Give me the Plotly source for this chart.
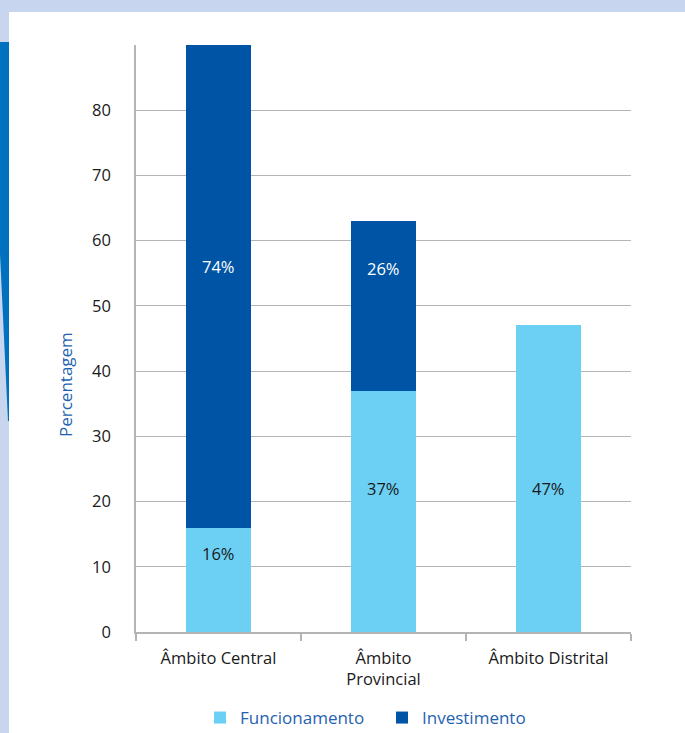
import plotly.graph_objects as go

# Budget share by level of government (%)
categories = ["Âmbito Central", "Âmbito<br>Provincial", "Âmbito Distrital"]
funcionamento = [16, 37, 47]
investimento = [74, 26, 0]
series_names = ["Funcionamento", "Investimento"]
y_ticks = [0, 10, 20, 30, 40, 50, 60, 70, 80]

LIGHT = "#6cd0f5"
DARK = "#0054a6"
GRID = "#b4b4b4"
BLUE_TEXT = "#1f62b0"
FONT = "Open Sans, Noto Sans, sans-serif"

W, H = 685, 733
L, R, T, B = 136, 54, 45, 101
pw, ph = W - L - R, H - T - B


def px(x):
    return (x - L) / pw


def py(y):
    return (H - B - y) / ph


fig = go.Figure()
fig.add_trace(go.Bar(x=categories, y=funcionamento, name=series_names[0],
                     marker=dict(color=LIGHT, line=dict(width=0)), width=0.39))
fig.add_trace(go.Bar(x=categories, y=investimento, name=series_names[1],
                     marker=dict(color=DARK, line=dict(width=0)), width=0.39))

# value labels inside the segments
annotations = []
light_label_y = [12.1, 22, 22]
dark_label_y = [56.1, 55.8, None]
for i, c in enumerate(categories):
    if funcionamento[i]:
        annotations.append(dict(x=c, y=light_label_y[i], text=f"{funcionamento[i]}%",
                                showarrow=False, font=dict(size=16.5, color="#1a1a1a", family=FONT)))
    if investimento[i]:
        annotations.append(dict(x=c, y=dark_label_y[i], text=f"{investimento[i]}%",
                                showarrow=False, font=dict(size=16.5, color="white", family=FONT)))

# vertical axis title, set a little below the middle of the axis
annotations.append(dict(xref="paper", yref="paper", x=px(65), y=py(385), text="Percentagem",
                        textangle=-90, showarrow=False, xanchor="center", yanchor="middle",
                        font=dict(size=17, color=BLUE_TEXT, family=FONT)))

# page frame: light band, white panel, blue accent on the left edge
shapes = [
    dict(type="rect", xref="paper", yref="paper", x0=px(9), x1=px(W + 5), y0=py(H + 5), y1=py(12),
         fillcolor="white", line=dict(width=0), layer="below"),
    dict(type="path", xref="paper", yref="paper",
         path=f"M {px(-2)},{py(42)} L {px(9)},{py(42)} L {px(9)},{py(421)} L {px(8)},{py(421)} "
              f"L {px(-2)},{py(212)} Z",
         fillcolor="#0071bf", line=dict(width=0), layer="below"),
]

fig.update_layout(
    width=W, height=H,
    margin=dict(l=L, r=R, t=T, b=B, autoexpand=False),
    barmode="stack",
    paper_bgcolor="#c7d5ee",
    plot_bgcolor="white",
    font=dict(family=FONT, size=16.5, color="#1a1a1a"),
    showlegend=True,
    legend=dict(orientation="h", x=px(382), xanchor="center", y=py(718), yanchor="middle",
                font=dict(size=17, color=BLUE_TEXT, family=FONT), traceorder="normal",
                entrywidth=137, itemclick=False, bgcolor="rgba(0,0,0,0)"),
    shapes=shapes,
    annotations=annotations,
    xaxis=dict(showline=True, linecolor=GRID, linewidth=1.5, ticks="outside", tickson="boundaries",
               ticklen=7, tickcolor=GRID, tickwidth=1.5, ticklabelstandoff=10,
               tickfont=dict(size=16.5, color="#1a1a1a"), showgrid=False),
    yaxis=dict(range=[0, 90], tickvals=y_ticks, showline=True, linecolor=GRID, linewidth=1.5,
               showgrid=True, gridcolor=GRID, gridwidth=1.2, zeroline=False,
               ticks="", ticklabelstandoff=20, tickfont=dict(size=16.5, color="#1a1a1a")),
)

fig.write_html("out.html")
